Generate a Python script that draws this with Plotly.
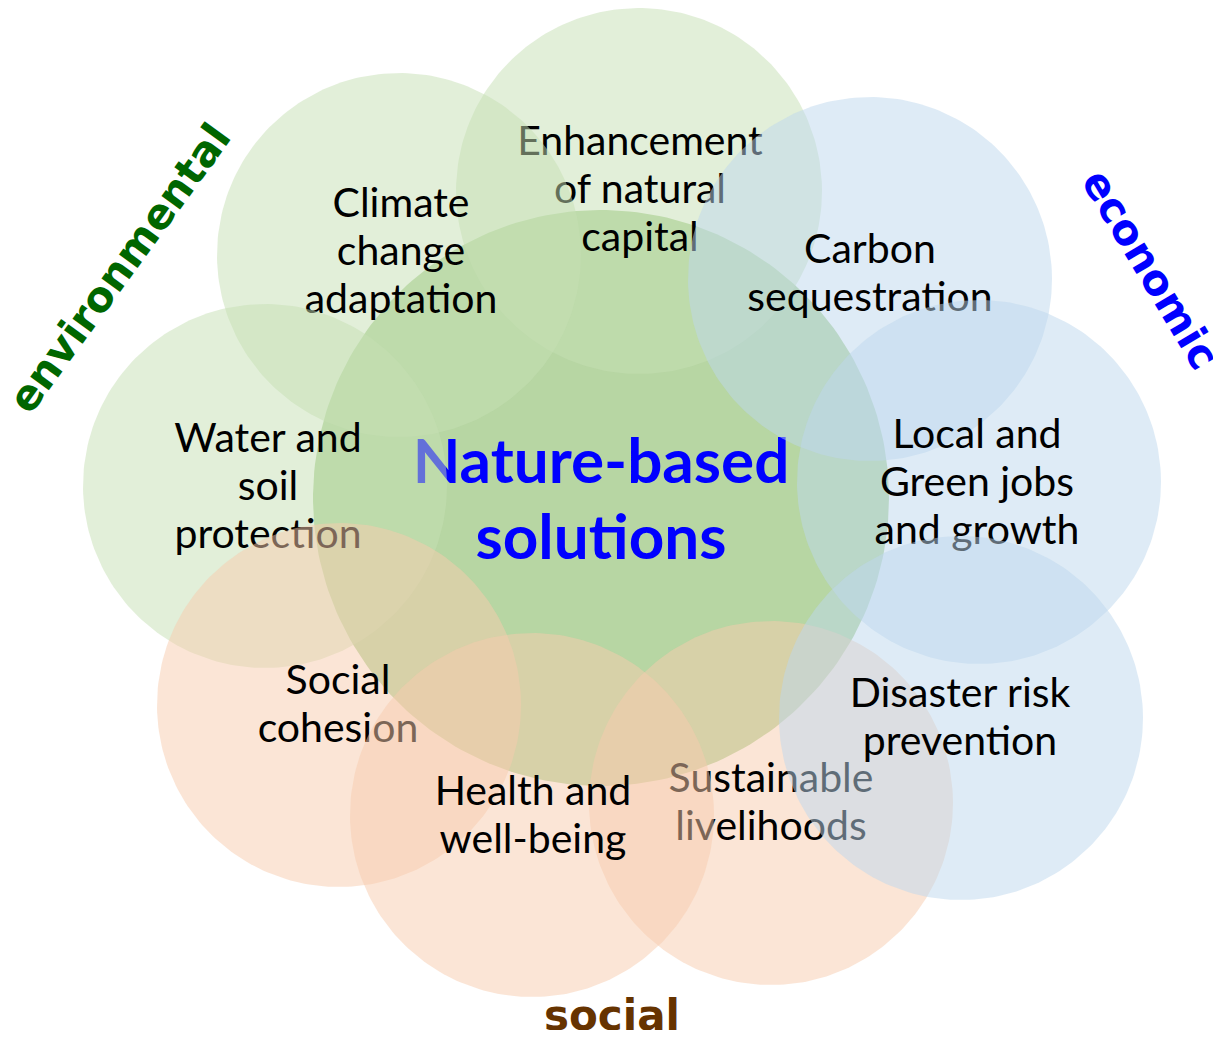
import numpy as np
import plotly.graph_objects as go

# ---- data ----
center_label = ["Nature-based", "solutions"]
center_circle = (601, 498, 288)

labels = [["Enhancement", "of natural", "capital"],
          ["Climate", "change", "adaptation"],
          ["Carbon", "sequestration"],
          ["Local and", "Green jobs", "and growth"],
          ["Sustainable", "livelihoods"],
          ["Disaster risk", "prevention"],
          ["Water and", "soil", "protection"],
          ["Social", "cohesion"],
          ["Health and", "well-being"]]
groups = ["env", "env", "eco", "eco", "soc", "eco", "env", "soc", "soc"]
cx = [639, 399, 870, 979, 771, 961, 265, 339, 532]
cy = [191, 255, 279, 482, 803, 718, 486, 705, 815]
radius = [183, 182, 182, 182, 182, 182, 182, 182, 182]
label_x = [640, 401, 870, 977, 771, 960, 268, 338, 533]
label_y = [193, 255, 277, 486, 806, 721, 490, 708, 819]

categories = ["environmental", "economic", "social"]
cat_x = [119, 1151, 612]
cat_y = [268, 269, 1015]
cat_angle = [-54, 59, 0]
cat_color = ["#006600", "#0000FF", "#663300"]

fills = {"env": "rgba(197,224,180,0.5)",
         "eco": "rgba(189,215,238,0.5)",
         "soc": "rgba(248,203,173,0.5)"}

W, H = 1221, 1038
PAD = 8  # default page body margin
LABEL_FONT = "Lato, Open Sans, sans-serif"
LINE = 48
TITLE_LINE = 76

def circle_pts(x0, y0, r, n=240):
    t = np.linspace(0, 2 * np.pi, n)
    return x0 + r * np.cos(t), y0 + r * np.sin(t)

def line_ys(yc, n, step):
    return [yc + (k - (n - 1) / 2) * step for k in range(n)]

fig = go.Figure()

# central circle and title
px, py = circle_pts(*center_circle)
fig.add_trace(go.Scatter(x=px, y=py, mode="lines", fill="toself",
                         fillcolor="rgba(112,173,71,0.5)", line=dict(width=0),
                         hoverinfo="skip", showlegend=False))
fig.add_trace(go.Scatter(x=[601] * len(center_label),
                         y=line_ys(505, len(center_label), TITLE_LINE),
                         mode="text", text=center_label,
                         textfont=dict(family=LABEL_FONT, size=62, color="#0000FF", weight="bold"),
                         textposition="middle center", hoverinfo="skip", showlegend=False))

for i, lab in enumerate(labels):
    px, py = circle_pts(cx[i], cy[i], radius[i])
    fig.add_trace(go.Scatter(x=px, y=py, mode="lines", fill="toself",
                             fillcolor=fills[groups[i]], line=dict(width=0),
                             hoverinfo="skip", showlegend=False))
    fig.add_trace(go.Scatter(x=[label_x[i]] * len(lab), y=line_ys(label_y[i], len(lab), LINE),
                             mode="text", text=lab,
                             textfont=dict(family=LABEL_FONT, size=41, color="#000000"),
                             textposition="middle center", hoverinfo="skip", showlegend=False))

for name, x, y, a, c in zip(categories, cat_x, cat_y, cat_angle, cat_color):
    fig.add_annotation(x=x, y=y, text=name, textangle=a, showarrow=False,
                       font=dict(family="DejaVu Sans", size=42, color=c, weight="bold"),
                       xanchor="center", yanchor="middle")

fig.update_layout(width=W - 2 * PAD, height=H - 2 * PAD, margin=dict(l=0, r=0, t=0, b=0),
                  plot_bgcolor="white", paper_bgcolor="white",
                  xaxis=dict(range=[PAD, W - PAD], visible=False, fixedrange=True),
                  yaxis=dict(range=[H - PAD, PAD], visible=False, fixedrange=True),
                  showlegend=False)
fig.write_html("out.html")
